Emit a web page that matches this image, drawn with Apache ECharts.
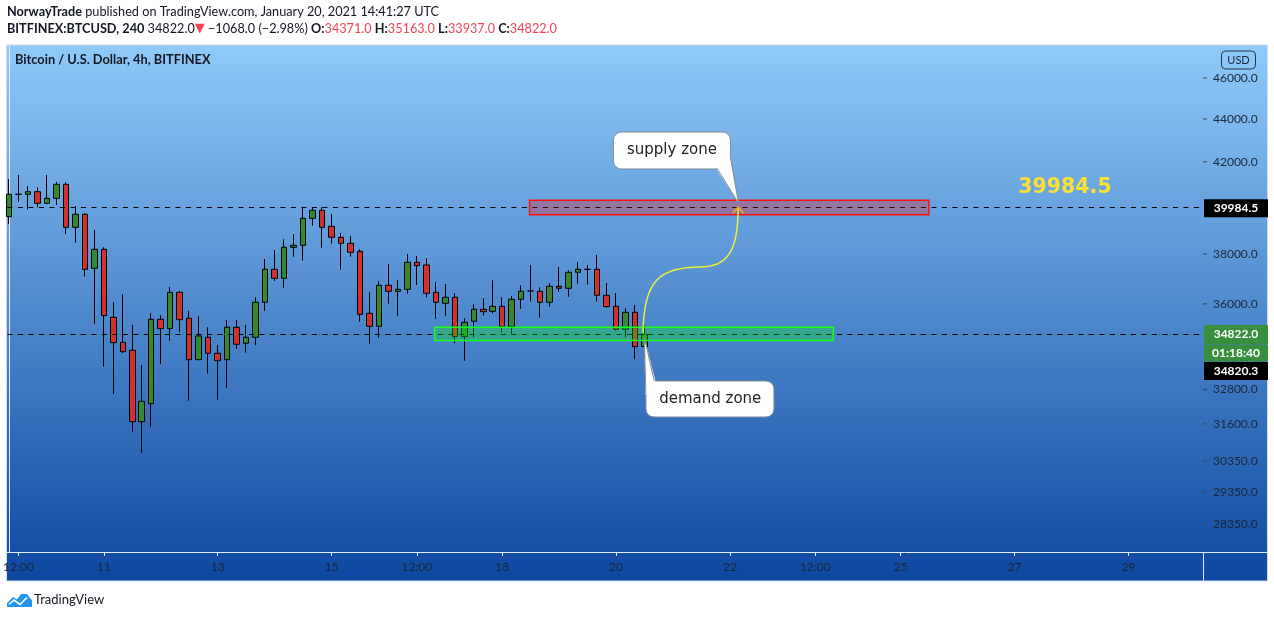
<!DOCTYPE html>
<html><head><meta charset="utf-8">
<script src="https://cdn.jsdelivr.net/npm/echarts@6/dist/echarts.min.js"></script>
<style>html,body{margin:0;padding:0;background:#fff}#c{width:1274px;height:618px}</style>
</head><body><div id="c"></div>
<script>
// ---- data (BITFINEX:BTCUSD, 4h candles starting 2021-01-09 08:00 UTC) ----
const startTime = '2021-01-09T08:00:00Z';
const barHours = 4;
const opens  = [39571,40545,40545,40660,40151,40369,40988,39119,39675,37416,38195,35478,34529,34231,31678,32303,35401,35042,36454,35440,33883,34717,34119,33883,35096,34492,34717,36061,37375,37012,38278,38362,39502,39848,39161,38697,38445,38113,35633,35134,36732,36494,36573,37661,37551,36454,36022,36257,34739,35325,35788,35710,35904,35119,36178,36506,36494,36061,36692,36612,37254,37375,37375,36336,35904,35020,35672,34371];
const closes = [40545,40545,40660,40151,40369,40988,39119,39675,37375,38195,35540,34514,34179,31678,32387,35401,35042,36454,35386,33883,34766,34119,33846,35096,34454,34717,36061,37375,37012,38278,38362,39502,39848,39119,38697,38445,38072,35594,35134,36732,36494,36573,37661,37522,36415,36061,36257,34739,35287,35788,35695,35904,35119,36178,36494,36506,36061,36692,36612,37254,37375,37375,36336,35889,35020,35672,34365,34822];
const lows   = [39259,40221,39891,39977,40140,40078,38836,38471,37077,35222,33627,32645,34119,31336,30630,31507,33725,34589,34917,32408,33870,33372,32443,32869,34279,34142,34428,35722,36904,36636,37891,37727,39187,38262,38429,37359,37891,35310,34477,34701,36006,35540,36399,36744,36257,35424,35540,34492,33846,34717,35540,35633,34891,34830,35799,36084,35463,35889,36478,36280,36796,36756,36084,35865,34967,34717,33897,33937];
const highs  = [41224,41403,40912,40854,41403,41103,41077,40034,39718,39005,38278,36061,36375,35184,33689,35633,35555,36664,36506,35722,35528,35096,34428,35375,35375,35184,36257,37796,38167,38613,38836,39977,39977,39977,39688,38878,38751,38195,36454,36892,37592,36944,38002,37919,37825,36864,36784,36415,35440,35983,36217,36932,36257,36308,36732,37551,36652,36812,37469,37335,37673,37551,37961,36824,36427,35826,35955,35163];

const yTickValues = [46000,44000,42000,38000,36000,32800,31600,30350,29350,28350];
const xTickTimes  = ['2021-01-09T12:00:00Z','2021-01-11T00:00:00Z','2021-01-13T00:00:00Z','2021-01-15T00:00:00Z','2021-01-16T12:00:00Z','2021-01-18T00:00:00Z','2021-01-20T00:00:00Z','2021-01-22T00:00:00Z','2021-01-23T12:00:00Z','2021-01-25T00:00:00Z','2021-01-27T00:00:00Z','2021-01-29T00:00:00Z'];
const xTickLabels = ['12:00','11','13','15','12:00','18','20','22','12:00','25','27','29'];

const supplyLevel = 39984.5;
const lastPrice   = 34822.0;
const bidPrice    = 34820.3;
const countdown   = '01:18:40';
// zones: [fromBar, toBar, lowPrice, highPrice]
const supplyZone = [54.88, 96.97, 39657, 40281];
const demandZone = [44.87, 86.91, 34596, 35095];
// annotation anchors: [bar, price]
const curveFrom  = [66.86, 34880];
const curveTo    = [76.87, 39984.5];
const supplyTip  = [76.9, 40164];
const demandTip  = [66.97, 34728];
const bigLabelAt = [106.4, 39984.5];

const xMin = -0.158, xMax = 125.87;
const yMin = 27499, yMax = 47678;

// ---- derived ----
const H = 3600 * 1000;
const t0 = Date.parse(startTime);
const candleData = opens.map((o, i) => [i, o, closes[i], lows[i], highs[i]]);
const xTickIdx = xTickTimes.map(t => (Date.parse(t) - t0) / (barHours * H));

const FONT = 'Lato, "Noto Sans", sans-serif';
const chart = echarts.init(document.getElementById('c'), null, {renderer: 'canvas'});

function renderZones(params, api) {
  const a = api.coord([api.value(0), api.value(3)]);
  const b = api.coord([api.value(1), api.value(2)]);
  const fills = ['rgba(255,0,0,0.28)', 'rgba(0,255,0,0.28)'];
  const strokes = ['#ff1010', '#18ff18'];
  return {type: 'rect', shape: {x: a[0], y: a[1], width: b[0] - a[0], height: b[1] - a[1]},
    style: {fill: fills[params.dataIndex], stroke: strokes[params.dataIndex], lineWidth: 1.5}};
}

function renderAnnotations(params, api) {
  const a = api.coord(curveFrom), b = api.coord(curveTo);
  const dx = b[0] - a[0], dy = b[1] - a[1];
  const mx = a[0] + 0.6 * dx, my = a[1] + 0.524 * dy;
  const st = api.coord(supplyTip), dt = api.coord(demandTip);
  const big = api.coord(bigLabelAt);
  const xr = api.coord([xMax, supplyLevel])[0];
  const yS = api.coord([xMax, supplyLevel])[1];
  const yP = api.coord([xMax, lastPrice])[1];
  const grey = '#858b96';
  const tagFont = 'bold 12px ' + FONT;
  const ticks = yTickValues.map(v => {
    const p = api.coord([xMax, v]);
    return {type: 'line', shape: {x1: p[0], y1: p[1], x2: p[0] + 4, y2: p[1]}, style: {stroke: '#3a4558', lineWidth: 1}};
  });
  return {type: 'group', children: ticks.concat([
    {type: 'bezierCurve', shape: {x1: a[0], y1: a[1], cpx1: a[0], cpy1: a[1] + 0.42 * dy, cpx2: a[0] + 0.179 * dx, cpy2: my, x2: mx, y2: my},
      style: {stroke: '#eef03c', lineWidth: 1.5, fill: null}},
    {type: 'bezierCurve', shape: {x1: mx, y1: my, cpx1: a[0] + 0.895 * dx, cpy1: my, cpx2: b[0], cpy2: a[1] + 0.659 * dy, x2: b[0], y2: b[1]},
      style: {stroke: '#eef03c', lineWidth: 1.5, fill: null}},
    {type: 'polyline', shape: {points: [[b[0] - 5.5, b[1] + 6], [b[0], b[1]], [b[0] + 5.5, b[1] + 6]]},
      style: {stroke: '#f5a623', lineWidth: 1.5, fill: null}},
    // supply callout
    {type: 'rect', shape: {x: st[0] - 125, y: st[1] - 71, width: 117, height: 37, r: 8}, style: {fill: '#fff', stroke: grey, lineWidth: 1}},
    {type: 'polygon', shape: {points: [[st[0] - 21.5, st[1] - 33.3], [st[0] - 8.5, st[1] - 48], [st[0], st[1]]]}, style: {fill: '#fff'}},
    {type: 'polyline', shape: {points: [[st[0] - 21, st[1] - 34], [st[0], st[1]], [st[0] - 8, st[1] - 46]]}, style: {stroke: grey, lineWidth: 1, fill: null}},
    {type: 'text', style: {text: 'supply zone', x: st[0] - 66.5, y: st[1] - 52.5, align: 'center', verticalAlign: 'middle', font: '15px "DejaVu Sans"', fill: '#222'}},
    // demand callout
    {type: 'rect', shape: {x: dt[0] + 1.7, y: dt[1] + 44, width: 128, height: 36, r: 8}, style: {fill: '#fff', stroke: grey, lineWidth: 1}},
    {type: 'polygon', shape: {points: [[dt[0], dt[1]], [dt[0] + 11, dt[1] + 43.3], [dt[0] + 1.2, dt[1] + 58]]}, style: {fill: '#fff'}},
    {type: 'polyline', shape: {points: [[dt[0] + 10, dt[1] + 44], [dt[0], dt[1]], [dt[0] + 1.7, dt[1] + 56]]}, style: {stroke: grey, lineWidth: 1, fill: null}},
    {type: 'text', style: {text: 'demand zone', x: dt[0] + 66, y: dt[1] + 62, align: 'center', verticalAlign: 'middle', font: '15px "DejaVu Sans"', fill: '#222'}},
    // big level label
    {type: 'text', style: {text: String(supplyLevel), x: big[0], y: big[1] - 19, align: 'left', verticalAlign: 'middle', font: 'bold 20.5px "DejaVu Sans"', fill: '#fbe233'}},
    // price tags on the axis
    {type: 'rect', shape: {x: xr + 1, y: yS - 8, width: 64, height: 18}, style: {fill: '#000'}},
    {type: 'text', style: {text: supplyLevel.toFixed(1), x: xr + 33, y: yS + 1, align: 'center', verticalAlign: 'middle', font: tagFont, fill: '#fff'}},
    {type: 'rect', shape: {x: xr + 1, y: yP - 9.5, width: 64, height: 19.5}, style: {fill: '#388e3c'}},
    {type: 'text', style: {text: lastPrice.toFixed(1), x: xr + 33, y: yP, align: 'center', verticalAlign: 'middle', font: tagFont, fill: '#fff'}},
    {type: 'rect', shape: {x: xr + 1, y: yP + 10.5, width: 64, height: 16.5}, style: {fill: '#388e3c'}},
    {type: 'text', style: {text: countdown, x: xr + 33, y: yP + 18.8, align: 'center', verticalAlign: 'middle', font: tagFont, fill: '#fff'}},
    {type: 'rect', shape: {x: xr + 1, y: yP + 27.5, width: 64, height: 18}, style: {fill: '#000'}},
    {type: 'text', style: {text: bidPrice.toFixed(1), x: xr + 33, y: yP + 36.5, align: 'center', verticalAlign: 'middle', font: tagFont, fill: '#fff'}}
  ])};
}

const FS = 12.7;
const rich = {
  b: {fontFamily: FONT, fontSize: FS, fontWeight: 'bold', fill: '#131722'},
  n: {fontFamily: FONT, fontSize: FS, fill: '#131722'},
  r: {fontFamily: FONT, fontSize: FS, fill: '#ef4452'},
  t: {fontFamily: '"DejaVu Sans"', fontSize: 13, fill: '#ef4452'}
};

chart.setOption({
  animation: false,
  grid: {left: 7, right: 71, top: 45, bottom: 66, containLabel: false},
  xAxis: {
    type: 'value', min: xMin, max: xMax,
    axisLine: {show: true, onZero: false, lineStyle: {color: '#e2ebf6', width: 1}},
    axisTick: {show: true, customValues: xTickIdx, length: 4, lineStyle: {color: '#e2ebf6'}},
    axisLabel: {customValues: xTickIdx, margin: 9, color: '#1d2636', fontSize: 12, fontFamily: FONT,
      formatter: v => { const k = xTickIdx.findIndex(t => Math.abs(t - v) < 1e-6); return k >= 0 ? xTickLabels[k] : ''; }},
    splitLine: {show: false}
  },
  yAxis: {
    type: 'log', position: 'right', min: yMin, max: yMax,
    axisLine: {show: true, lineStyle: {color: '#e2ebf6', width: 1}},
    axisTick: {show: false},
    axisLabel: {customValues: yTickValues, margin: 10, color: '#1d2636', fontSize: 12, fontFamily: FONT,
      formatter: v => Number(v).toFixed(1)},
    splitLine: {show: false}
  },
  graphic: [
    {type: 'rect', z: -100, shape: {x: 6.5, y: 45, width: 1261, height: 536},
      style: {fill: new echarts.graphic.LinearGradient(0, 0, 0, 1, [{offset: 0, color: '#90caf9'}, {offset: 1, color: '#0d47a1'}]), stroke: '#d3dde8', lineWidth: 1}},
    {type: 'line', z: -50, shape: {x1: 1203, y1: 552.5, x2: 1268, y2: 552.5}, style: {stroke: '#e2ebf6', lineWidth: 1}},
    {type: 'line', z: -50, shape: {x1: 1203.5, y1: 552, x2: 1203.5, y2: 581}, style: {stroke: '#e2ebf6', lineWidth: 1}},
    {type: 'text', x: 7, y: 12, style: {text: '{b|NorwayTrade}{n| published on TradingView.com, January 20, 2021 14:41:27 UTC}', rich: rich, verticalAlign: 'middle', font: FS + 'px ' + FONT}},
    {type: 'text', x: 7, y: 29, style: {text: '{b|BITFINEX:BTCUSD, 240}{n| 34822.0}{t|▼}{n| −1068.0 (−2.98%) }{b|O:}{r|34371.0}{b| H:}{r|35163.0}{b| L:}{r|33937.0}{b| C:}{r|34822.0}', rich: rich, verticalAlign: 'middle', font: FS + 'px ' + FONT}},
    {type: 'text', x: 15, y: 60, style: {text: 'Bitcoin / U.S. Dollar, 4h, BITFINEX', verticalAlign: 'middle', font: 'bold 12.8px ' + FONT, fill: '#131722'}},
    {type: 'rect', shape: {x: 1221.5, y: 51, width: 34, height: 18, r: 4}, style: {fill: null, stroke: '#2b3446', lineWidth: 1}},
    {type: 'text', style: {text: 'USD', x: 1238.5, y: 60, align: 'center', verticalAlign: 'middle', font: '11px ' + FONT, fill: '#1d2636'}},
    {type: 'polygon', shape: {points: [[7, 607], [7, 603], [13, 597], [17, 599.5], [21, 594], [27, 594], [32, 600.5], [32, 607]]}, style: {fill: '#2196f3'}},
    {type: 'polyline', shape: {points: [[9, 604.5], [14, 600], [20, 604.5], [27, 597.5]]}, style: {stroke: '#fff', lineWidth: 1.6, fill: null}},
    {type: 'text', x: 34, y: 600, style: {text: 'TradingView', verticalAlign: 'middle', font: '13px ' + FONT, fill: '#131722'}}
  ],
  series: [
    {
      type: 'candlestick', z: 2, barWidth: 6, data: candleData,
      itemStyle: {color: '#2f8a33', color0: '#d42f2f', borderColor: '#000', borderColor0: '#000', borderWidth: 1},
      markLine: {
        silent: true, symbol: 'none', label: {show: false},
        data: [
          {yAxis: supplyLevel, lineStyle: {color: '#000', type: [5, 5.5], width: 1}},
          {yAxis: lastPrice, lineStyle: {color: '#2e9a3c', type: [2, 8.5], dashOffset: -6.5, width: 1}},
          {yAxis: lastPrice, lineStyle: {color: '#000', type: [5, 5.5], width: 1}}
        ]
      }
    },
    {type: 'custom', z: 5, silent: true, renderItem: renderZones, encode: {x: [0, 1], y: [2, 3]}, data: [supplyZone, demandZone]},
    {type: 'custom', z: 10, silent: true, clip: false, renderItem: renderAnnotations, encode: {x: 0, y: 1}, data: [curveFrom]}
  ]
});
</script></body></html>
